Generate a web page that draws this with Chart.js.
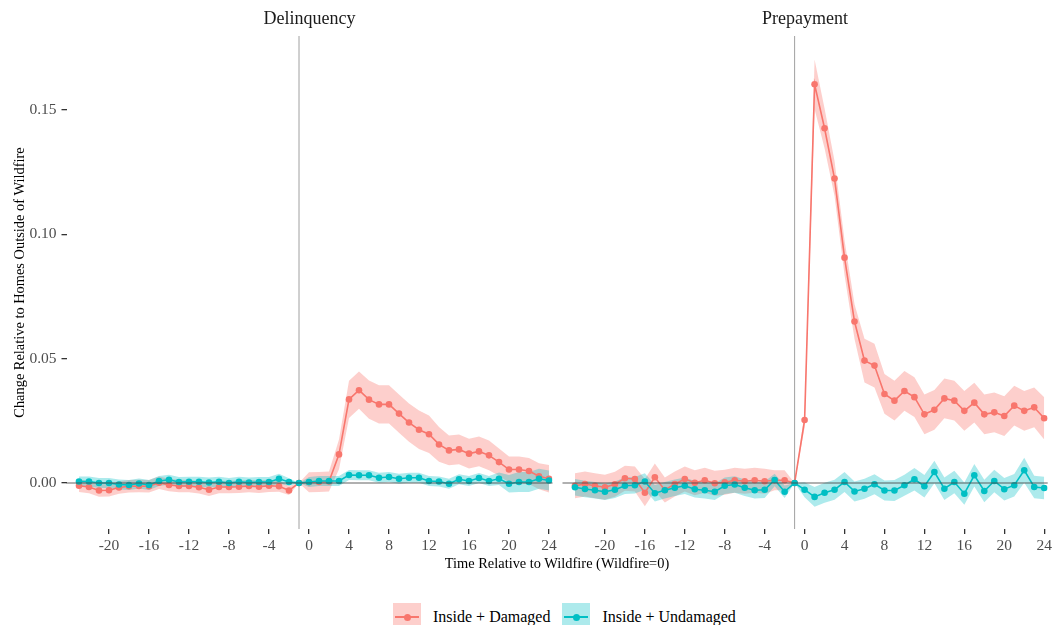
<!DOCTYPE html>
<html>
<head>
<meta charset="utf-8">
<script src="https://cdn.jsdelivr.net/npm/chart.js@4.4.1/dist/chart.umd.min.js"></script>
<style>
  body { margin: 0; background: #fff; }
  #wrap { position: relative; width: 1055px; height: 625px; overflow: hidden; font-family: "Liberation Serif", "Times New Roman", serif; }
  #wrap canvas { position: absolute; left: 0; top: 0; }
  #xtitle { position: absolute; left: 357px; width: 400px; top: 554px; text-align: center; font-size: 14.4px; line-height: 18px; color: #000; }
  #legend { position: absolute; left: 393px; top: 603px; display: flex; align-items: center; font-size: 16px; color: #000; }
  .key { position: relative; width: 28px; height: 28px; margin-right: 12px; }
  .key .ln { position: absolute; left: 2px; right: 2px; top: 13px; height: 1.6px; }
  .key .dot { position: absolute; left: 10.5px; top: 10.5px; width: 7px; height: 7px; border-radius: 50%; }
  .lab { margin-right: 12px; line-height: 28px; }
</style>
</head>
<body>
<div id="wrap">
  <canvas id="left" width="1055" height="555"></canvas>
  <canvas id="right" width="1055" height="555"></canvas>
  <div id="xtitle">Time Relative to Wildfire (Wildfire=0)</div>
  <div id="legend">
    <div class="key" style="background:rgba(248,118,109,0.35)"><div class="ln" style="background:#F8766D"></div><div class="dot" style="background:#F8766D"></div></div>
    <span class="lab">Inside + Damaged</span>
    <div class="key" style="background:rgba(0,191,196,0.32)"><div class="ln" style="background:#00BFC4"></div><div class="dot" style="background:#00BFC4"></div></div>
    <span class="lab">Inside + Undamaged</span>
  </div>
</div>
<script>
// months relative to the wildfire (month -1 is the reference period)
const months = [-23,-22,-21,-20,-19,-18,-17,-16,-15,-14,-13,-12,-11,-10,-9,-8,-7,-6,-5,-4,-3,-2,-1,
  0,1,2,3,4,5,6,7,8,9,10,11,12,13,14,15,16,17,18,19,20,21,22,23,24];
const xTicks = [-20,-16,-12,-8,-4,0,4,8,12,16,20,24];
const yTicks = [0, 0.05, 0.10, 0.15];
const fireLine = -1;

// Delinquency panel
const delDamaged = [-0.0011,-0.0016,-0.0030,-0.0029,-0.0018,-0.0013,-0.0012,-0.0013,0.0001,-0.0008,-0.0012,-0.0012,-0.0017,-0.0027,-0.0016,-0.0016,-0.0015,-0.0012,-0.0015,-0.0011,-0.0013,-0.0030,
  0,
  0.0003,0.0004,0.0006,0.0115,0.0336,0.0373,0.0335,0.0316,0.0316,0.0279,0.0243,0.0214,0.0196,0.0155,0.0131,0.0135,0.0118,0.0127,0.0111,0.0084,0.0054,0.0054,0.0048,0.0027,0.0017];
const delDamagedCI = [0.0025,0.0025,0.0025,0.0025,0.0025,0.0025,0.0025,0.0025,0.0025,0.0025,0.0025,0.0025,0.0025,0.0025,0.0025,0.0025,0.0025,0.0025,0.0025,0.0025,0.0022,0.0018,
  0,
  0.004,0.004,0.004,0.006,0.0075,0.0075,0.0077,0.0077,0.0077,0.0077,0.0077,0.0077,0.0075,0.007,0.006,0.006,0.006,0.006,0.006,0.0055,0.0052,0.0052,0.0052,0.0052,0.0055];
const delUndamaged = [0.0006,0.0006,0.0000,0.0000,-0.0006,-0.0008,-0.0002,-0.0008,0.0008,0.0013,0.0004,0.0005,0.0005,0.0002,0.0005,0.0000,0.0005,0.0002,0.0004,0.0004,0.0017,0.0004,
  0,
  0.0004,0.0008,0.0008,0.0008,0.0032,0.0031,0.0031,0.0021,0.0024,0.0017,0.0021,0.0021,0.0008,0.0006,-0.0003,0.0015,0.0008,0.0020,0.0008,0.0017,-0.0003,0.0004,0.0004,0.0017,0.0010];
const delUndamagedCI = [0.002,0.002,0.002,0.002,0.002,0.002,0.002,0.002,0.002,0.002,0.002,0.002,0.002,0.002,0.002,0.002,0.002,0.002,0.002,0.002,0.002,0.0015,
  0,
  0.002,0.002,0.002,0.002,0.002,0.002,0.002,0.002,0.002,0.002,0.002,0.002,0.002,0.002,0.002,0.002,0.002,0.002,0.002,0.0025,0.0035,0.004,0.004,0.004,0.004];

// Prepayment panel
const prepDamaged = [-0.0011,-0.0004,-0.0011,-0.0017,-0.0005,0.0019,0.0016,-0.0039,0.0023,-0.0028,-0.0004,0.0016,0.0001,0.0011,-0.0001,0.0003,0.0011,0.0007,0.0011,0.0007,0.0011,0.0011,
  0,
  0.0253,0.1603,0.1426,0.1224,0.0906,0.0649,0.0492,0.0472,0.0358,0.0331,0.0370,0.0345,0.0276,0.0294,0.0340,0.0331,0.0290,0.0323,0.0276,0.0284,0.0269,0.0311,0.0290,0.0304,0.0260];
const prepDamagedCI = [0.005,0.005,0.005,0.005,0.005,0.005,0.005,0.0055,0.0055,0.005,0.005,0.005,0.005,0.005,0.005,0.005,0.005,0.005,0.005,0.005,0.004,0.004,
  0,
  0.003,0.010,0.008,0.007,0.007,0.007,0.0088,0.0088,0.008,0.008,0.008,0.008,0.008,0.008,0.008,0.008,0.008,0.008,0.008,0.008,0.008,0.008,0.008,0.008,0.0085];
const prepUndamaged = [-0.0017,-0.0024,-0.0029,-0.0035,-0.0027,-0.0011,-0.0009,0.0006,-0.0041,-0.0029,-0.0019,-0.0011,-0.0025,-0.0029,-0.0035,-0.0011,-0.0006,-0.0019,-0.0029,-0.0027,0.0012,-0.0035,
  0,
  -0.0027,-0.0056,-0.0039,-0.0027,0.0004,-0.0034,-0.0023,-0.0005,-0.0030,-0.0030,-0.0009,0.0015,-0.0013,0.0044,-0.0023,0.0004,-0.0043,0.0031,-0.0032,0.0008,-0.0025,-0.0009,0.0051,-0.0016,-0.0020];
const prepUndamagedCI = [0.0033,0.0033,0.0033,0.0033,0.0033,0.0033,0.0033,0.0033,0.0033,0.0033,0.0033,0.0033,0.0033,0.0033,0.0033,0.0033,0.0033,0.0033,0.0033,0.0033,0.0025,0.0025,
  0,
  0.003,0.004,0.004,0.004,0.004,0.004,0.004,0.004,0.004,0.0042,0.0042,0.0045,0.0045,0.0045,0.0045,0.0045,0.0045,0.0045,0.0045,0.0045,0.0045,0.0045,0.005,0.0045,0.0045];

const RED = '#F8766D', TEAL = '#00BFC4';
const serif = '"Liberation Serif", "Times New Roman", serif';

function pts(vals) {
  return months.map((m, i) => ({x: m, y: vals[i]}));
}

function band(vals, ci, fillColor, order) {
  return [
    {data: pts(vals.map((v, i) => v - ci[i])), borderColor: 'transparent', borderWidth: 0, pointRadius: 0, fill: false, order: order},
    {data: pts(vals.map((v, i) => v + ci[i])), borderColor: 'transparent', borderWidth: 0, pointRadius: 0, fill: '-1', backgroundColor: fillColor, order: order}
  ];
}

function line(vals, color, order) {
  return {data: pts(vals), borderColor: color, backgroundColor: color, borderWidth: 1.6,
    pointRadius: 3.3, pointBorderWidth: 0, pointBackgroundColor: color, fill: false, tension: 0, order: order};
}

const refLines = {
  id: 'refLines',
  beforeDatasetsDraw(chart) {
    const {ctx, chartArea, scales} = chart;
    const px = scales.x.getPixelForValue(fireLine);
    ctx.save();
    ctx.strokeStyle = '#a0a0a0';
    ctx.lineWidth = 1;
    ctx.beginPath();
    ctx.moveTo(px, chartArea.top);
    ctx.lineTo(px, chartArea.bottom);
    ctx.stroke();
    ctx.restore();
  },
  afterDatasetsDraw(chart) {
    const {ctx, chartArea, scales} = chart;
    const py = scales.y.getPixelForValue(0);
    ctx.save();
    ctx.strokeStyle = 'rgba(70,70,70,0.85)';
    ctx.lineWidth = 1.2;
    ctx.beginPath();
    ctx.moveTo(chartArea.left, py);
    ctx.lineTo(chartArea.right, py);
    ctx.stroke();
    ctx.restore();
  }
};

function makePanel(id, title, damaged, damagedCI, undamaged, undamagedCI, showY, pad) {
  const tickGrid = {drawOnChartArea: false, drawTicks: true, tickLength: 5, color: '#333', lineWidth: 1.3};
  return new Chart(document.getElementById(id), {
    type: 'line',
    data: {
      datasets: [
        ...band(damaged, damagedCI, 'rgba(248,118,109,0.35)', 3),
        ...band(undamaged, undamagedCI, 'rgba(0,191,196,0.32)', 2),
        line(damaged, RED, 1),
        line(undamaged, TEAL, 0)
      ]
    },
    options: {
      responsive: false,
      animation: false,
      layout: {padding: pad},
      plugins: {
        legend: {display: false},
        tooltip: {enabled: false},
        title: {
          display: true,
          text: title,
          fullSize: false,
          color: '#1a1a1a',
          font: {family: serif, size: 18, weight: 'normal'},
          padding: {top: 8, bottom: 6.4}
        }
      },
      scales: {
        x: {
          type: 'linear',
          min: -24.25,
          max: 24.35,
          afterBuildTicks: s => { s.ticks = xTicks.map(v => ({value: v})); },
          afterFit: s => { s.height = 26; },
          grid: tickGrid,
          border: {display: false},
          ticks: {font: {family: serif, size: 15.5}, color: '#4d4d4d', padding: 3, maxRotation: 0, autoSkip: false}
        },
        y: {
          display: showY,
          min: -0.0185,
          max: 0.1797,
          afterBuildTicks: s => { s.ticks = yTicks.map(v => ({value: v})); },
          afterFit: s => { s.width = showY ? 66.5 : 0; },
          grid: tickGrid,
          border: {display: false},
          ticks: {font: {family: serif, size: 15.5}, color: '#4d4d4d', padding: 5, callback: v => v.toFixed(2)},
          title: {
            display: true,
            text: 'Change Relative to Homes Outside of Wildfire',
            color: '#000',
            font: {family: serif, size: 14.4},
            padding: {top: 11.6, bottom: 0}
          }
        }
      }
    },
    plugins: [refLines]
  });
}

makePanel('left', 'Delinquency', delDamaged, delDamagedCI, delUndamaged, delUndamagedCI, true,
  {left: 0, right: 502.5, top: 0, bottom: 0});
makePanel('right', 'Prepayment', prepDamaged, prepDamagedCI, prepUndamaged, prepUndamagedCI, false,
  {left: 562.5, right: 6.5, top: 0, bottom: 0});
</script>
</body>
</html>
